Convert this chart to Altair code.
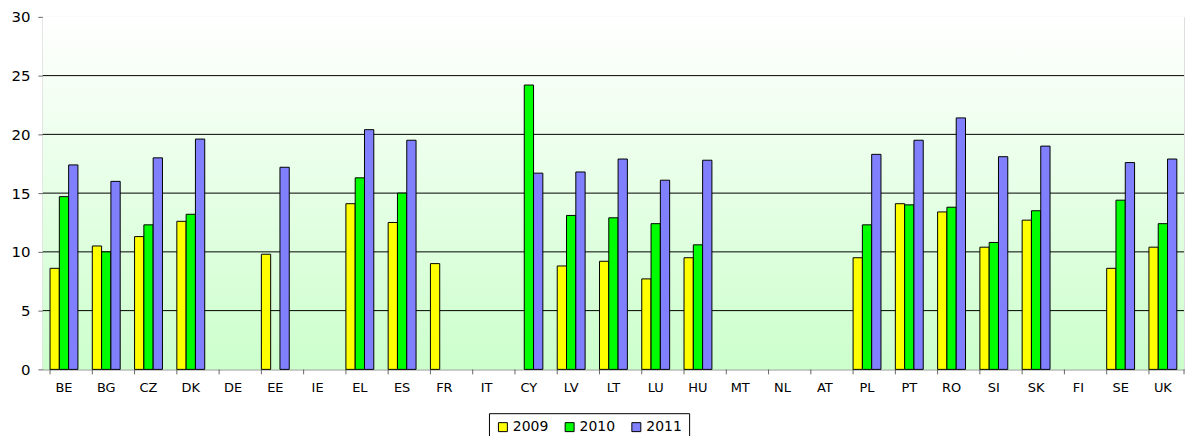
import altair as alt
import pandas as pd

countries = ["BE", "BG", "CZ", "DK", "DE", "EE", "IE", "EL", "ES", "FR", "IT", "CY", "LV", "LT",
             "LU", "HU", "MT", "NL", "AT", "PL", "PT", "RO", "SI", "SK", "FI", "SE", "UK"]
v2009 = [8.6, 10.5, 11.3, 12.6, None, 9.8, None, 14.1, 12.5, 9.0, None, None, 8.8, 9.2,
         7.7, 9.5, None, None, None, 9.5, 14.1, 13.4, 10.4, 12.7, None, 8.6, 10.4]
v2010 = [14.7, 10.0, 12.3, 13.2, None, None, None, 16.3, 15.0, None, None, 24.2, 13.1, 12.9,
         12.4, 10.6, None, None, None, 12.3, 14.0, 13.8, 10.8, 13.5, None, 14.4, 12.4]
v2011 = [17.4, 16.0, 18.0, 19.6, None, 17.2, None, 20.4, 19.5, None, None, 16.7, 16.8, 17.9,
         16.1, 17.8, None, None, None, 18.3, 19.5, 21.4, 18.1, 19.0, None, 17.6, 17.9]
years = ["2009", "2010", "2011"]
colors = ["#FFFF00", "#00FF00", "#8080FF"]
y_ticks = [0, 5, 10, 15, 20, 25, 30]
grid_vals = [5, 10, 15, 20, 25]

rows = []
for yr, vals in zip(years, [v2009, v2010, v2011]):
    for c, v in zip(countries, vals):
        if v is not None:
            rows.append({"country": c, "year": yr, "value": v})
df = pd.DataFrame(rows)
grid_df = pd.DataFrame({"value": grid_vals})
cat_df = pd.DataFrame({"country": countries})

W, H = 1146, 354
FONT = "DejaVu Sans"

x_scale = alt.Scale(domain=countries, paddingInner=0.34, paddingOuter=0.17)
y_scale = alt.Scale(domain=[0, 30], nice=False)
x_axis = alt.Axis(title=None, labelAngle=0, ticks=False, grid=False,
                  domainColor="#808080", labelFont=FONT, labelFontSize=13,
                  labelColor="#000000", labelPadding=12)
y_axis = alt.Axis(title=None, values=y_ticks, grid=False, tickSize=5,
                  tickColor="#666666", domainColor="#666666",
                  labelFont=FONT, labelFontSize=15, labelColor="#000000",
                  labelPadding=8)

background = alt.Chart(pd.DataFrame({"a": [0]})).mark_rect(
    fill=alt.Gradient(gradient="linear",
                      stops=[alt.GradientStop(color="#FFFFFF", offset=0),
                             alt.GradientStop(color="#CCFFCC", offset=1)],
                      x1=0, y1=0, x2=0, y2=1)
).encode(x=alt.value(0), x2=alt.value(W), y=alt.value(0), y2=alt.value(H))

grid = alt.Chart(grid_df).mark_rule(color="#000000", strokeWidth=1).encode(
    y=alt.Y("value:Q", scale=y_scale, axis=y_axis)
)

xticks = alt.Chart(cat_df).mark_rule(color="#666666", strokeWidth=1).encode(
    x=alt.X("country:N", scale=x_scale, sort=countries, bandPosition=0, axis=x_axis),
    y=alt.value(H), y2=alt.value(H + 5)
)
xtick_end = alt.Chart(pd.DataFrame({"a": [0]})).mark_rule(color="#666666", strokeWidth=1).encode(
    x=alt.value(W), y=alt.value(H), y2=alt.value(H + 5)
)

bars = alt.Chart(df).mark_bar(stroke="#000000", strokeWidth=1).encode(
    x=alt.X("country:N", scale=x_scale, sort=countries, axis=x_axis),
    xOffset=alt.XOffset("year:N", scale=alt.Scale(domain=years)),
    y=alt.Y("value:Q", scale=y_scale, axis=y_axis),
    color=alt.Color("year:N", scale=alt.Scale(domain=years, range=colors),
                    legend=alt.Legend(title=None, orient="none", legendX=448, legendY=398,
                                      direction="horizontal", strokeColor="#000000",
                                      fillColor="#FFFFFF", padding=7, symbolType="square",
                                      symbolSize=81, symbolStrokeColor="#000000",
                                      symbolStrokeWidth=1, labelFont=FONT, labelFontSize=14,
                                      labelColor="#000000", columnPadding=14, labelOffset=3))
)

chart = alt.layer(background, grid, xticks, xtick_end, bars).properties(
    width=W, height=H,
    padding={"left": 35, "top": 8, "right": 5, "bottom": 66},
    autosize=alt.AutoSizeParams(type="none"),
).configure_view(stroke="#808080", strokeWidth=1).configure(font=FONT)

chart.save("out.html", embed_options={"renderer": "svg", "actions": False})
